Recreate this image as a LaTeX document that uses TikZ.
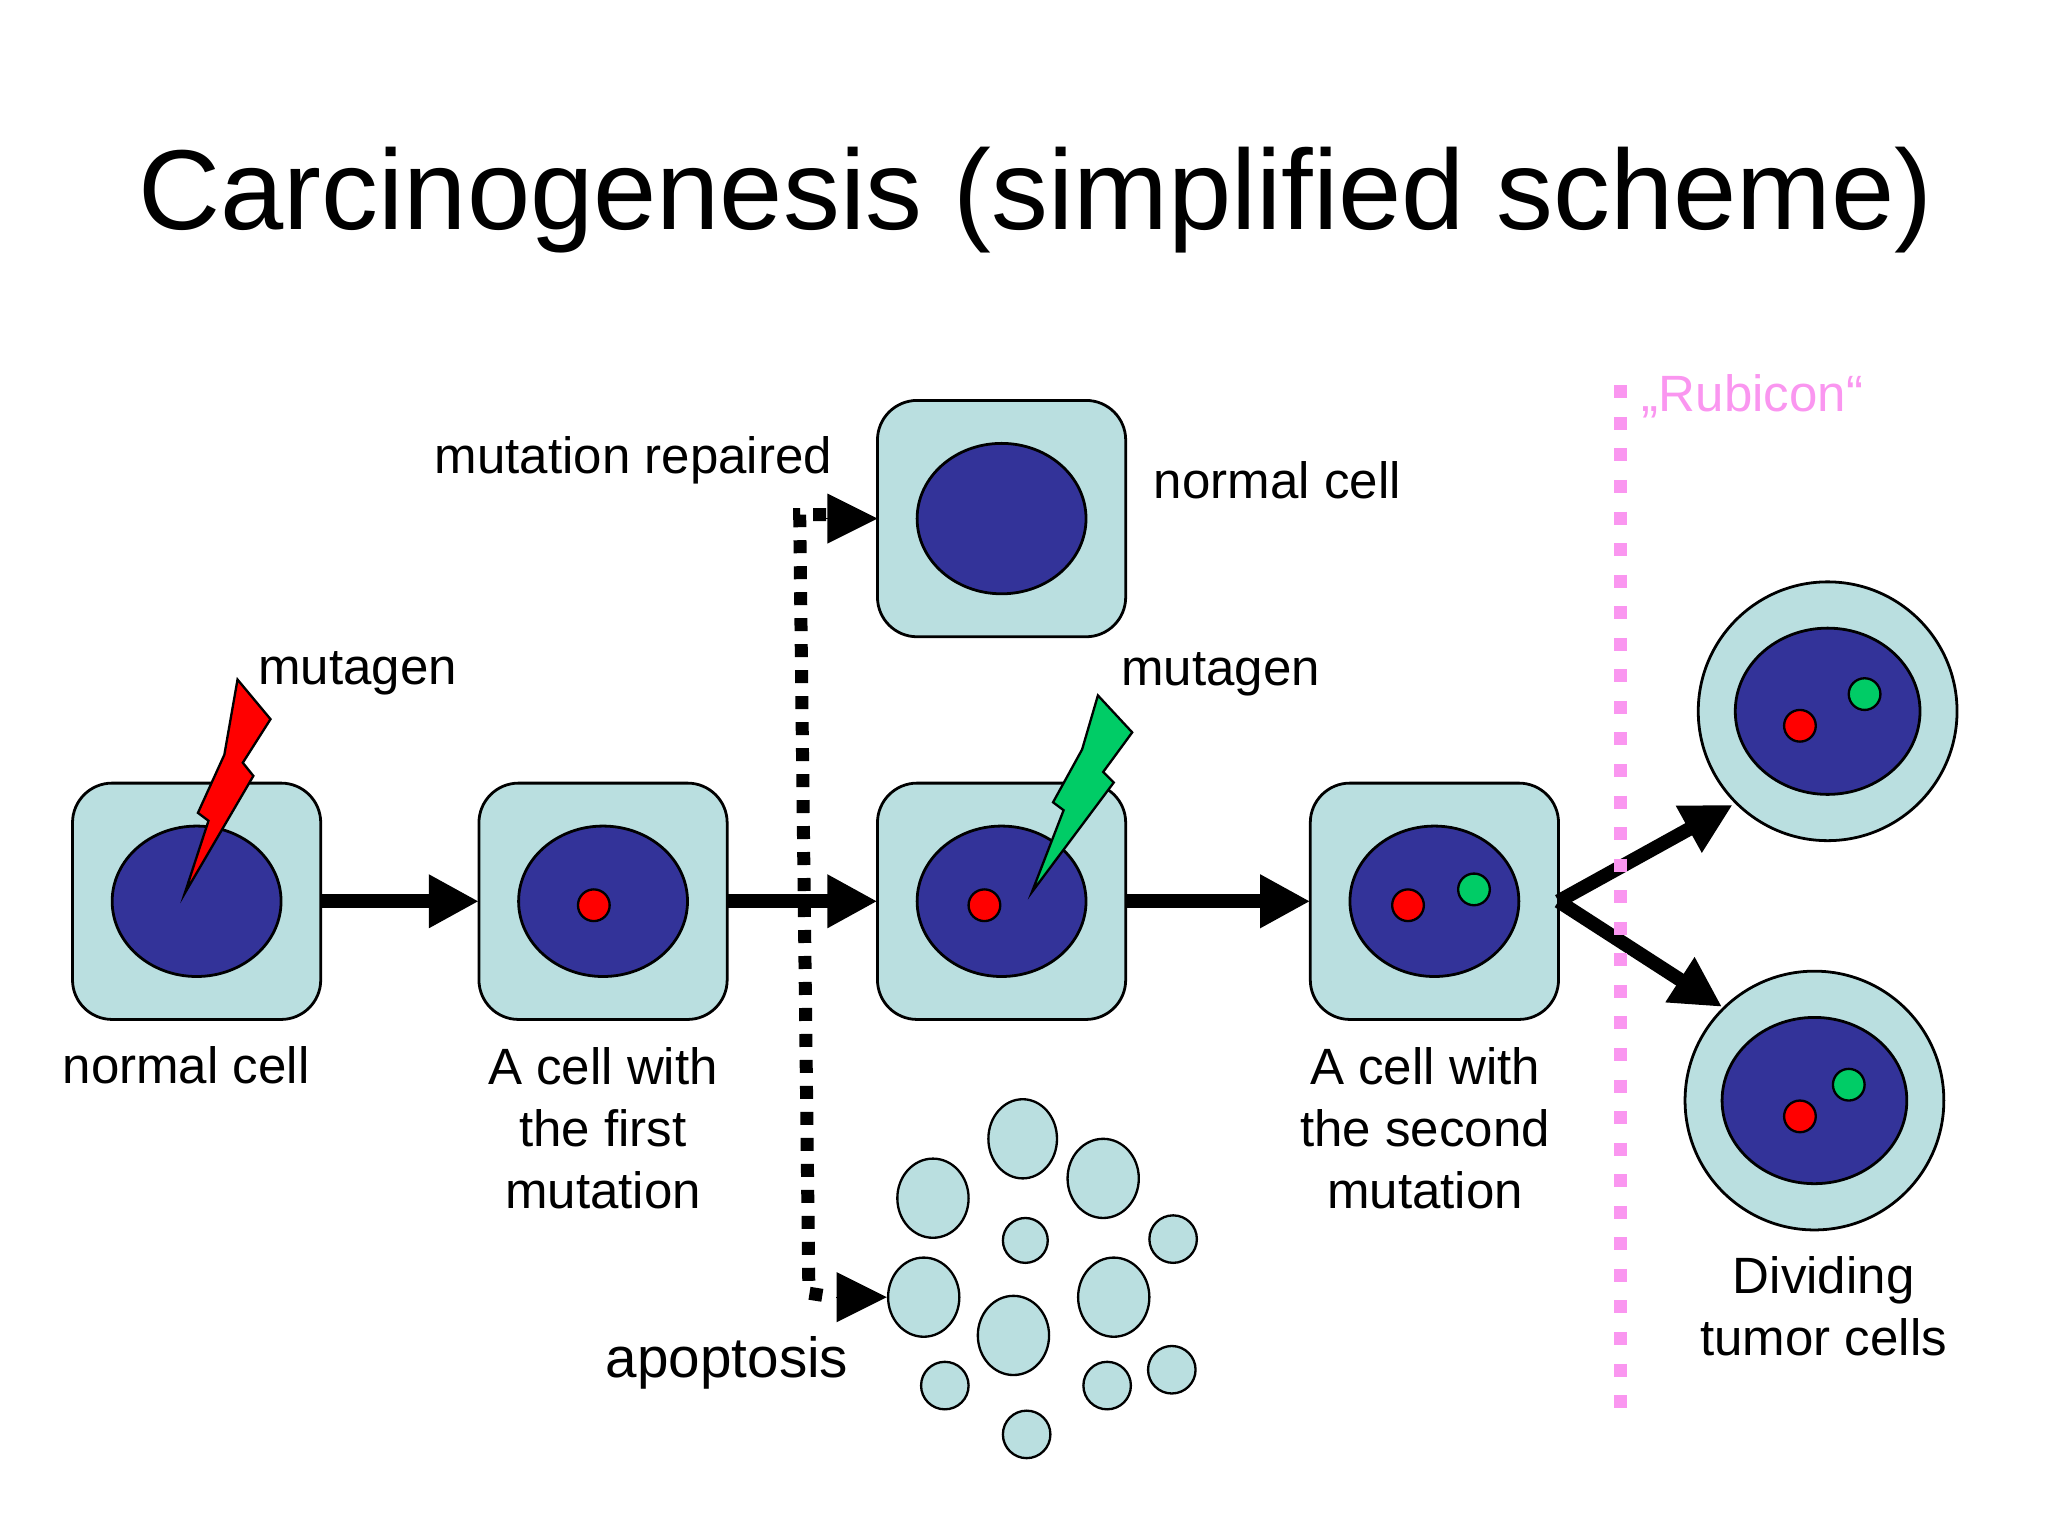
\documentclass[tikz,border=0pt]{standalone}
\usepackage{fontspec}
\setmainfont{Liberation Sans}
\usetikzlibrary{arrows.meta}
\definecolor{cellc}{RGB}{186,223,224}
\definecolor{nuc}{RGB}{51,51,153}
\definecolor{grn}{RGB}{0,204,102}
\definecolor{pnk}{RGB}{250,150,240}
\begin{document}
\begin{tikzpicture}[x=0.01cm,y=-0.01cm,
 cell/.style={draw=black,fill=cellc,rounded corners=0.3cm,minimum width=1.88cm,minimum height=1.79cm,line width=0.6pt,outer sep=0pt},
 tcell/.style={draw=black,fill=cellc,circle,minimum size=1.96cm,line width=0.6pt},
 nucl/.style={draw=black,fill=nuc,line width=0.6pt},
 dot/.style={draw=black,circle,minimum size=0.24cm,inner sep=0pt,line width=0.5pt},
 ap/.style={draw=black,fill=cellc,line width=0.5pt},
 arr/.style={line width=3pt,-{Triangle[length=0.38cm,width=0.38cm]}},
 dots/.style={line width=2.8pt,dash pattern=on 2.8pt off 2.8pt},
 lbl/.style={font=\fontsize{11pt}{13.4pt}\selectfont,align=center},
 bolt/.style={draw=black,line width=0.5pt}]
\useasboundingbox (0,0) rectangle (1552,1164);
\node[font=\fontsize{24.5pt}{28pt}\selectfont] (title) at (785,152) {Carcinogenesis (simplified scheme)};
% cells
\node[cell] (c1) at (149,683) {};
\node[cell] (c2) at (457,683) {};
\node[cell] (c3) at (759,683) {};
\node[cell] (c0) at (759,393) {};
\node[cell] (c4) at (1087,683) {};
\node[tcell] (t1) at (1385,539) {};
\node[tcell] (t2) at (1375,834) {};
\foreach \p in {(149,683),(457,683),(759,683),(759,393),(1087,683)}
  \draw[nucl] \p ellipse (64 and 57);
\draw[nucl] (1385,539) ellipse (70 and 63);
\draw[nucl] (1375,834) ellipse (70 and 63);
\node[dot,fill=red] (r2) at (450,686) {};
\node[dot,fill=red] (r3) at (746,686) {};
\node[dot,fill=red] (r4) at (1067,686) {};
\node[dot,fill=grn] (g4) at (1117,674) {};
\node[dot,fill=red] (r5) at (1364,550) {};
\node[dot,fill=grn] (g5) at (1413,526) {};
\node[dot,fill=red] (r6) at (1364,846) {};
\node[dot,fill=grn] (g6) at (1401,822) {};
% bolts
\draw[bolt,fill=red] (180,515) -- (205,545) -- (184,578) -- (192,588) -- (140,677) -- (158,622) -- (150,616) -- (170,572) -- cycle;
\draw[bolt,fill=grn] (832,527) -- (858,555) -- (836,585) -- (844,593) -- (782,676) -- (806,614) -- (798,608) -- (820,568) -- cycle;
% arrows
\draw[arr] (c1) -- (c2);
\draw[arr] (c2) -- (c3);
\draw[arr] (c3) -- (c4);
\coordinate (br) at (1181,683);
\draw[arr] (br) -- (1313,610);
\draw[arr] (br) -- (1305,763);
% dotted paths
\coordinate (dtop) at (606,390);
\coordinate (dbot) at (613,980);
\draw[dots] (626,390) -- (dtop) -- (dbot) -- (632,983);
\draw[line width=0pt,-{Triangle[length=0.38cm,width=0.38cm]}] (626,393) -- (c0.west);
\draw[line width=0pt,-{Triangle[length=0.38cm,width=0.38cm]}] (634,983) -- (672,983);
% rubicon
\draw[pnk,line width=2.8pt,dash pattern=on 2.8pt off 4pt] (1228,292) -- (1228,1080);
\node[lbl,text=pnk] (rub) at (1328,300) {„Rubicon“};
% apoptosis bodies
\draw[ap] (775,863) ellipse (26 and 30);
\draw[ap] (836,893) ellipse (27 and 30);
\draw[ap] (707,908) ellipse (27 and 30);
\draw[ap] (777,940) circle (17);
\draw[ap] (889,939) circle (18);
\draw[ap] (700,983) ellipse (27 and 30);
\draw[ap] (844,983) ellipse (27 and 30);
\draw[ap] (768,1012) ellipse (27 and 30);
\draw[ap] (716,1050) circle (18);
\draw[ap] (839,1050) circle (18);
\draw[ap] (888,1038) circle (18);
\draw[ap] (778,1087) circle (18);
% labels
\node[lbl] (m1) at (271,510) {mutagen};
\node[lbl] (mr) at (480,349) {mutation repaired};
\node[lbl] (nc0) at (968,364) {normal cell};
\node[lbl] (m2) at (925,511) {mutagen};
\node[lbl] (nc1) at (141,807) {normal cell};
\node[lbl] (l2) at (457,855) {A cell with\\the first\\mutation};
\node[lbl] (l4) at (1080,855) {A cell with\\the second\\mutation};
\node[lbl,font=\fontsize{12.2pt}{14pt}\selectfont] (apo) at (551,1033) {apoptosis};
\node[lbl] (tum) at (1382,990) {Dividing\\tumor cells};
\end{tikzpicture}
\end{document}
